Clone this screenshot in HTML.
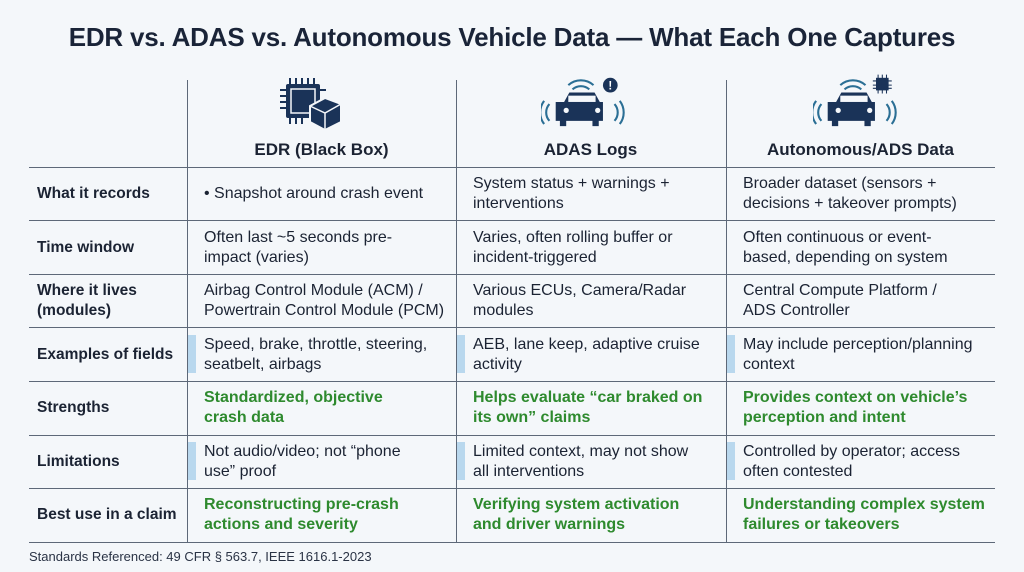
<!DOCTYPE html>
<html><head><meta charset="utf-8"><style>
body{margin:0;width:1024px;height:572px;background:#f4f7fa;font-family:"Liberation Sans",sans-serif;color:#1b2333;position:relative;overflow:hidden}
.t{position:absolute;left:0;width:1024px;top:22px;text-align:center;font-size:26px;font-weight:bold;color:#1a2438;letter-spacing:-0.2px}
.h{position:absolute;height:1px;background:#5d6878;left:29px;width:966px}
.v{position:absolute;width:1px;background:#5d6878;top:80px;height:462px}
.c{position:absolute;font-size:16px;line-height:20px;display:flex;align-items:center;height:53px}
.l{left:37px;font-weight:bold;width:150px;font-size:15.5px}
.c1{left:204px}.c2{left:473px}.c3{left:743px}
.g{color:#2e8a2e;font-weight:bold}
.bar{position:absolute;width:8px;height:38px;background:#b9d8ee}
.hd{position:absolute;top:140px;font-size:17px;font-weight:bold;text-align:center;width:269px}
.f{position:absolute;left:29px;top:549px;font-size:13px;color:#2a3345}
</style></head><body>
<div class="t">EDR vs. ADAS vs. Autonomous Vehicle Data — What Each One Captures</div>
<div class="v" style="left:187px"></div><div class="v" style="left:456px"></div><div class="v" style="left:726px"></div>
<div class="h" style="top:167px"></div><div class="h" style="top:220px"></div><div class="h" style="top:274px"></div><div class="h" style="top:327px"></div><div class="h" style="top:381px"></div><div class="h" style="top:435px"></div><div class="h" style="top:488px"></div><div class="h" style="top:542px"></div>

<svg style="position:absolute;left:278px;top:76px" width="74" height="56" viewBox="0 0 74 56">
<g fill="#1a3358"><rect x="8" y="8" width="34" height="34" rx="2"/>
<g stroke="#1a3358" stroke-width="2"><path d="M12 2v6M18 2v6M24 2v6M30 2v6M36 2v6M12 42v6M18 42v6M24 42v6M2 14h6M2 20h6M2 26h6M2 32h6M42 14h6"/></g>
<rect x="13" y="13" width="24" height="24" fill="none" stroke="#f4f7fa" stroke-width="1.5"/>
<path d="M32 30l15-8 16 6v18l-16 8-15-8z" stroke="#f4f7fa" stroke-width="2"/>
<path d="M32 30l15 7 16-9M47 37v17" stroke="#f4f7fa" stroke-width="1.5" fill="none"/></g></svg>

<svg style="position:absolute;left:541px;top:74px" width="84" height="58" viewBox="0 0 80 54">
<g fill="none" stroke="#2b6f95" stroke-width="2"><path d="M8 28a12 12 0 0 0 0 16M3 25a18 18 0 0 0 0 22M70 28a12 12 0 0 1 0 16M75 25a18 18 0 0 1 0 22M30 14a12 12 0 0 1 16 0M26 10a18 18 0 0 1 24 0"/></g>
<path d="M22 26l5-9h24l5 9h3v18h-4v5h-6v-5H24v5h-6v-5h-4V26z" fill="#1a3358"/>
<rect x="26" y="20" width="26" height="6" fill="#f4f7fa"/><circle cx="24" cy="34" r="2.5" fill="#f4f7fa"/><circle cx="54" cy="34" r="2.5" fill="#f4f7fa"/>
<circle cx="66" cy="10" r="7" fill="#1a3358"/><text x="66" y="14" font-size="11" font-weight="bold" fill="#fff" text-anchor="middle" font-family="Liberation Sans">!</text></svg>

<svg style="position:absolute;left:813px;top:74px" width="84" height="58" viewBox="0 0 80 54">
<g fill="none" stroke="#2b6f95" stroke-width="2"><path d="M8 28a12 12 0 0 0 0 16M3 25a18 18 0 0 0 0 22M70 28a12 12 0 0 1 0 16M75 25a18 18 0 0 1 0 22M30 14a12 12 0 0 1 16 0M26 10a18 18 0 0 1 24 0"/></g>
<path d="M22 26l5-9h24l5 9h3v18h-4v5h-6v-5H24v5h-6v-5h-4V26z" fill="#1a3358"/>
<rect x="26" y="20" width="26" height="6" fill="#f4f7fa"/><circle cx="24" cy="34" r="2.5" fill="#f4f7fa"/><circle cx="54" cy="34" r="2.5" fill="#f4f7fa"/>
<rect x="60" y="3" width="12" height="12" fill="#1a3358"/><path d="M62 0v18M66 0v18M70 0v18M57 6h18M57 10h18M57 13h18" stroke="#1a3358" stroke-width="1"/></svg>

<div class="hd" style="left:187px">EDR (Black Box)</div>
<div class="hd" style="left:456px">ADAS Logs</div>
<div class="hd" style="left:726px">Autonomous/ADS Data</div>

<div class="c l" style="top:167px">What it records</div>
<div class="c c1" style="top:167px">• Snapshot around crash event</div>
<div class="c c2" style="top:167px">System status + warnings +<br>interventions</div>
<div class="c c3" style="top:167px">Broader dataset (sensors +<br>decisions + takeover prompts)</div>

<div class="c l" style="top:221px">Time window</div>
<div class="c c1" style="top:221px">Often last ~5 seconds pre-<br>impact (varies)</div>
<div class="c c2" style="top:221px">Varies, often rolling buffer or<br>incident-triggered</div>
<div class="c c3" style="top:221px">Often continuous or event-<br>based, depending on system</div>

<div class="c l" style="top:274px">Where it lives<br>(modules)</div>
<div class="c c1" style="top:274px">Airbag Control Module (ACM) /<br>Powertrain Control Module (PCM)</div>
<div class="c c2" style="top:274px">Various ECUs, Camera/Radar<br>modules</div>
<div class="c c3" style="top:274px">Central Compute Platform /<br>ADS Controller</div>

<div class="bar" style="left:188px;top:335px"></div><div class="bar" style="left:457px;top:335px"></div><div class="bar" style="left:727px;top:335px"></div>
<div class="c l" style="top:328px">Examples of fields</div>
<div class="c c1" style="top:328px">Speed, brake, throttle, steering,<br>seatbelt, airbags</div>
<div class="c c2" style="top:328px">AEB, lane keep, adaptive cruise<br>activity</div>
<div class="c c3" style="top:328px">May include perception/planning<br>context</div>

<div class="c l" style="top:381px">Strengths</div>
<div class="c c1 g" style="top:381px">Standardized, objective<br>crash data</div>
<div class="c c2 g" style="top:381px">Helps evaluate “car braked on<br>its own” claims</div>
<div class="c c3 g" style="top:381px">Provides context on vehicle’s<br>perception and intent</div>

<div class="bar" style="left:188px;top:442px"></div><div class="bar" style="left:457px;top:442px"></div><div class="bar" style="left:727px;top:442px"></div>
<div class="c l" style="top:435px">Limitations</div>
<div class="c c1" style="top:435px">Not audio/video; not “phone<br>use” proof</div>
<div class="c c2" style="top:435px">Limited context, may not show<br>all interventions</div>
<div class="c c3" style="top:435px">Controlled by operator; access<br>often contested</div>

<div class="c l" style="top:488px">Best use in a claim</div>
<div class="c c1 g" style="top:488px">Reconstructing pre-crash<br>actions and severity</div>
<div class="c c2 g" style="top:488px">Verifying system activation<br>and driver warnings</div>
<div class="c c3 g" style="top:488px">Understanding complex system<br>failures or takeovers</div>

<div class="f">Standards Referenced: 49 CFR § 563.7, IEEE 1616.1-2023</div>
</body></html>
